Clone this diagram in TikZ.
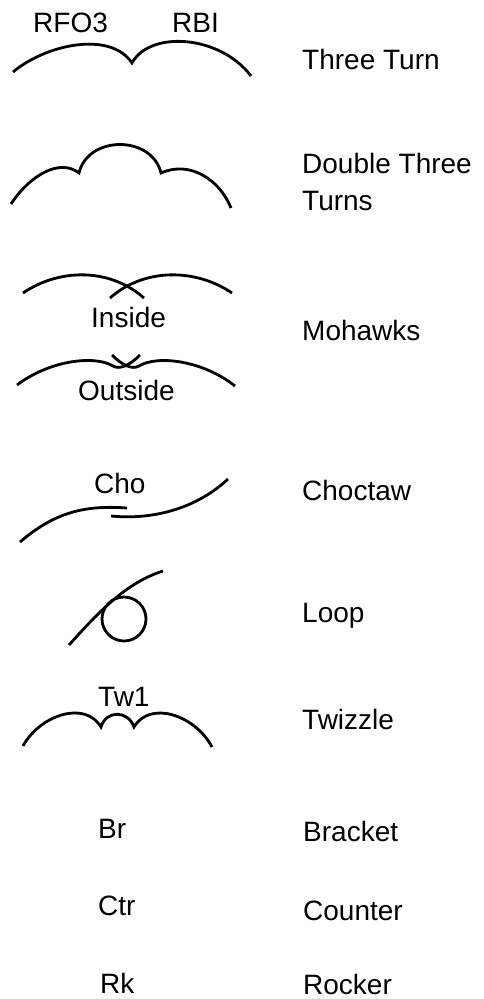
\documentclass[tikz,border=0pt]{standalone}
\usepackage{fontspec}
\setmainfont{Liberation Sans}
\usetikzlibrary{positioning}
\definecolor{inkDark}{HTML}{000000}

\begin{document}
\begin{tikzpicture}[
  x=1pt, y=-1pt,
  font=\fontsize{28}{37}\selectfont,
  trace/.style={draw=inkDark, line width=2.8pt},
  lbl/.style={anchor=base west, inner sep=0pt, text=inkDark},
  elem/.style={anchor=base west, inner sep=0pt, text=inkDark, align=left},
]
\useasboundingbox (0,0) rectangle (484,999);

% =============================== tracings ==================================
% three turn
\draw[trace] (13,72) .. controls (45,45) and (110,30) .. (132,63)
  .. controls (150,30) and (220,35) .. (251,76);

% double three turns
\draw[trace] (11,204) .. controls (30,175) and (60,158) .. (79,173)
  .. controls (88,135) and (152,135) .. (161,173)
  .. controls (190,160) and (220,180) .. (231,208);

% inside mohawk: two crossing edges
\draw[trace] (23,293) .. controls (60,268) and (110,268) .. (144,298);
\draw[trace] (110,298) .. controls (144,268) and (195,268) .. (232,293);

% outside mohawk
\draw[trace] (17,385) .. controls (50,360) and (95,355) .. (113,366)
  .. controls (120,370) and (130,365) .. (140,355);
\draw[trace] (112,355) .. controls (122,365) and (132,370) .. (139,366)
  .. controls (157,355) and (202,360) .. (235,386);

% choctaw
\draw[trace] (20,542) .. controls (55,512) and (85,505) .. (127,508);
\draw[trace] (111,516) .. controls (150,520) and (195,510) .. (228,479);

% loop
\draw[trace] (69,645) .. controls (97,614) and (125,583) .. (163,571);
\draw[trace] (124,619) circle[radius=22];

% twizzle
\draw[trace] (23,746) .. controls (40,715) and (85,700) .. (101,727)
  .. controls (106,710) and (128,710) .. (134,727)
  .. controls (150,700) and (195,715) .. (212,747);

% =============================== labels ====================================
\node[lbl] (rfo)  at (33,32)   {RFO3};
\node[lbl] (rbi)  at (172,32)  {RBI};
\node[lbl] (ins)  at (91,327)  {Inside};
\node[lbl] (outs) at (78,400)  {Outside};
\node[lbl] (cho)  at (94,493)  {Cho};
\node[lbl] (tw)   at (98,706)  {Tw1};
\node[lbl] (br)   at (98,838)  {Br};
\node[lbl] (ctr)  at (98,915)  {Ctr};
\node[lbl] (rk)   at (100,993) {Rk};

% =============================== names =====================================
\node[elem] (three)   at (302,69)  {Three Turn};
\node[elem, anchor=north west] (double) at (302,153) {Double Three\\Turns};
\node[elem] (mohawk)  at (302,340) {Mohawks};
\node[elem] (choctaw) at (302,500) {Choctaw};
\node[elem] (loop)    at (302,622) {Loop};
\node[elem] (twizzle) at (302,729) {Twizzle};
\node[elem] (bracket) at (303,841) {Bracket};
\node[elem] (counter) at (303,920) {Counter};
\node[elem] (rocker)  at (303,994) {Rocker};

\end{tikzpicture}
\end{document}
